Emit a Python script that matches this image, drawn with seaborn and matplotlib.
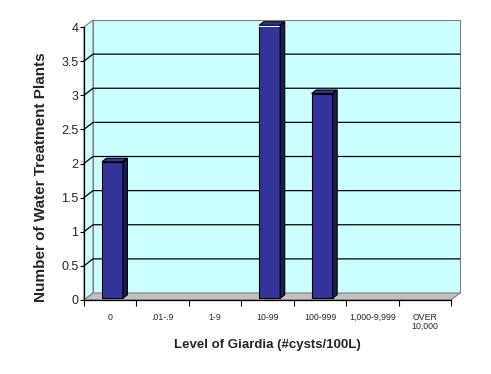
import numpy as np
import pandas as pd
import matplotlib
matplotlib.use("Agg")
import matplotlib.pyplot as plt
from matplotlib.patches import Polygon, Rectangle
import seaborn as sns

# data
levels = ["0", ".01-.9", "1-9", "10-99", "100-999", "1,000-9,999", "OVER\n10,000"]
plants = [2, 0, 0, 4, 3, 0, 0]
yticks = [0, 0.5, 1, 1.5, 2, 2.5, 3, 3.5, 4]

WALL = "#CCFFFF"
FLOOR = "#C0C0C0"
BAR = "#333399"
BAR_SIDE = "#1C1C55"

sns.set_theme(style="white")
plt.rcParams["font.family"] = ["Liberation Sans", "DejaVu Sans"]

fig = plt.figure(figsize=(4.91, 3.74), dpi=100)
ax = fig.add_axes([84 / 491, 74 / 374, 367 / 491, 273 / 374])
ax.set_facecolor("none")

df = pd.DataFrame({"level": levels, "plants": plants})
sns.barplot(data=df, x="level", y="plants", order=levels, color=BAR,
            saturation=1, width=0.4, edgecolor="black", linewidth=0.8, ax=ax, zorder=5)
bars = list(ax.patches)

n = len(levels)
ax.set_xlim(-0.5, n - 0.5)
ax.set_ylim(0, max(yticks))

# 3D depth offset, pixels -> data units
bb = ax.get_window_extent()
sx = bb.width / n
sy = bb.height / max(yticks)
DX, DY = 9 / sx, 7 / sy
x0, x1 = -0.5, n - 0.5
ytop = max(yticks)

# back wall
ax.add_patch(Rectangle((x0 + DX, DY), n, ytop, facecolor=WALL, edgecolor="#808080",
                       linewidth=0.8, clip_on=False, zorder=0))
# side wall
ax.add_patch(Polygon([(x0, 0), (x0, ytop), (x0 + DX, ytop + DY), (x0 + DX, DY)],
                     closed=True, facecolor=WALL, edgecolor="#808080", linewidth=0.8,
                     clip_on=False, zorder=0))
# floor
ax.add_patch(Polygon([(x0, 0), (x1, 0), (x1 + DX, DY), (x0 + DX, DY)],
                     closed=True, facecolor=FLOOR, edgecolor="#808080", linewidth=0.8,
                     clip_on=False, zorder=1))
# gridlines on the walls
for v in yticks[1:-1]:
    ax.plot([x0, x0 + DX, x1 + DX], [v, v + DY, v + DY], color="black", lw=0.9,
            clip_on=False, zorder=2)

# bars: shift into the depth and add top/side faces
for p in bars:
    h = p.get_height()
    if h == 0:
        p.set_visible(False)
        continue
    p.set_x(p.get_x() + DX * 0.25)
    p.set_y(DY * 0.25)
    bx, bw, by = p.get_x(), p.get_width(), p.get_y()
    top = by + h
    d = 0.5
    ax.add_patch(Polygon([(bx, top), (bx + bw, top), (bx + bw + d * DX, top + d * DY),
                          (bx + d * DX, top + d * DY)], closed=True, facecolor=BAR,
                         edgecolor="black", linewidth=0.8, clip_on=False, zorder=6))
    ax.add_patch(Polygon([(bx + bw, by), (bx + bw, top), (bx + bw + d * DX, top + d * DY),
                          (bx + bw + d * DX, by + d * DY)], closed=True, facecolor=BAR_SIDE,
                         edgecolor="black", linewidth=0.8, clip_on=False, zorder=6))

# front axes
sns.despine(ax=ax, top=True, right=True)
for s in ["left", "bottom"]:
    ax.spines[s].set_color("black")
    ax.spines[s].set_linewidth(0.9)
    ax.spines[s].set_zorder(7)

ax.set_yticks(yticks)
ax.set_yticklabels([f"{v:g}" for v in yticks], fontsize=9)
ax.tick_params(axis="y", which="major", direction="out", length=3, width=0.8,
               color="black", pad=1, left=True)
ax.set_xticks(range(n))
ax.set_xticklabels(levels, fontsize=6.3, linespacing=1.05)
ax.set_xticks(np.arange(-0.5, n, 1), minor=True)
ax.tick_params(axis="x", which="major", length=0, pad=9)
ax.tick_params(axis="x", which="minor", direction="out", length=4, width=0.8,
               color="black", bottom=True)

ax.set_xlabel("Level of Giardia (#cysts/100L)", fontsize=9.5, fontweight="bold", labelpad=6)
ax.set_ylabel("Number of Water Treatment Plants", fontsize=11, fontweight="bold")
ax.yaxis.set_label_coords(-0.098, 0.45)

fig.savefig("out.png", dpi=100, facecolor="white")
